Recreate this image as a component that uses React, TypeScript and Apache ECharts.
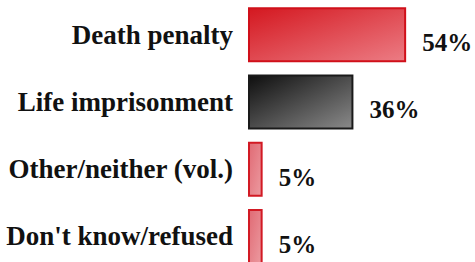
import React, { useEffect, useRef } from "react";
import * as echarts from "echarts";

const categories = ["Death penalty", "Life imprisonment", "Other/neither (vol.)", "Don't know/refused"];
const values = [54, 36, 5, 5];
const valueLabels = ["54%", "36%", "5%", "5%"];

const styles = [
  { from: "#d41820", to: "#ec7c84", border: "#d0101a" },
  { from: "#0e0e0e", to: "#8a8a8a", border: "#1a1a1a" },
  { from: "#e06a74", to: "#ec9aa0", border: "#d21a24" },
  { from: "#e06a74", to: "#ec9aa0", border: "#d21a24" },
];

export default function App() {
  const ref = useRef<HTMLDivElement>(null);
  useEffect(() => {
    if (!ref.current) return;
    const chart = echarts.init(ref.current, null, { renderer: "svg" });
    chart.setOption({
      animation: false,
      backgroundColor: "#ffffff",
      grid: {
        left: 248,
        top: 1,
        width: 205,
        height: 269,
        containLabel: false,
        outerBoundsMode: "none",
      },
      xAxis: { type: "value", min: 0, max: 70, show: false },
      yAxis: {
        type: "category",
        data: categories,
        inverse: true,
        axisLine: { show: false },
        axisTick: { show: false },
        axisLabel: {
          margin: 15,
          fontFamily: "Liberation Serif",
          fontWeight: "bold",
          fontSize: 27,
          color: "#111111",
        },
      },
      series: [
        {
          type: "bar",
          barWidth: 55,
          data: values.map((v, i) => ({
            value: v,
            itemStyle: {
              color: new echarts.graphic.LinearGradient(0, 0, 1, 1, [
                { offset: 0, color: styles[i].from },
                { offset: 1, color: styles[i].to },
              ]),
              borderColor: styles[i].border,
              borderWidth: 2,
            },
          })),
          label: {
            show: true,
            position: "right",
            distance: 0,
            offset: [16, 8],
            formatter: (p: any) => valueLabels[p.dataIndex],
            fontFamily: "Liberation Serif",
            fontWeight: "bold",
            fontSize: 25,
            color: "#111111",
          },
        },
      ],
    });
    return () => chart.dispose();
  }, []);
  return (
    <div
      ref={ref}
      style={{ position: "fixed", left: 0, top: 0, width: 475, height: 262 }}
    />
  );
}
